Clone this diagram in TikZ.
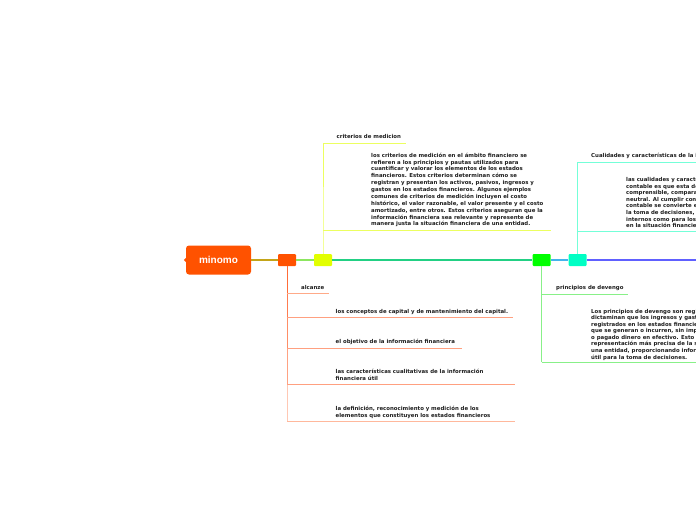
\documentclass[tikz,border=0pt]{standalone}
\usepackage{fontspec}
\setmainfont{Liberation Sans}
\newfontfamily\smallfam{DejaVu Sans}
\definecolor{mainor}{HTML}{FF5200}
\definecolor{yel}{HTML}{E2FF00}
\definecolor{grn}{HTML}{00FF00}
\definecolor{cyn}{HTML}{00FFC4}
\definecolor{lmo}{HTML}{C4A418}
\definecolor{loy}{HTML}{8CE660}
\definecolor{lyg}{HTML}{22D084}
\definecolor{lgc}{HTML}{44B4EC}
\definecolor{lcb}{HTML}{6060FF}
\definecolor{ylw}{HTML}{ECFF60}
\definecolor{gln}{HTML}{88F088}
\definecolor{cln}{HTML}{74FFD8}
\definecolor{txc}{HTML}{1E1E1E}
\definecolor{ov1}{HTML}{FF6C38}
\definecolor{ov2}{HTML}{FF7C50}
\definecolor{ov3}{HTML}{FF8E66}
\definecolor{ov4}{HTML}{FFA282}
\definecolor{ov5}{HTML}{FFC8B4}
\definecolor{oh1}{HTML}{FFAA88}
\definecolor{oh2}{HTML}{FFA080}
\definecolor{oh5}{HTML}{FFB89C}
\begin{document}
\begin{tikzpicture}[x=1pt,y=-1pt,
  lbl/.style={font=\smallfam\bfseries\fontsize{5.4}{6.9}\selectfont, text=txc, inner sep=0pt, anchor=base west, align=left},
  para/.style={font=\smallfam\bfseries\fontsize{5.4}{6.9}\selectfont, text=txc, inner sep=0pt, anchor=north west, align=left},
  sbox/.style={minimum width=18pt, minimum height=12pt, inner sep=0pt, rounded corners=1pt},
  trunk/.style={line width=1.3pt},
  br/.style={line width=1pt}]
\useasboundingbox (0,0) rectangle (696,520);
\clip (0,0) rectangle (696,520);
% main node
\node[fill=mainor, rounded corners=3pt, minimum width=65pt, minimum height=29pt, inner sep=0pt,
  text=white, font=\bfseries\fontsize{10}{12}\selectfont] (main) at (218.5,260) {minomo};
\fill[mainor] (main.west) ++(0.5,-2.5) -- ++(-2.5,2.5) -- ++(2.5,2.5) -- cycle;
% small boxes
\node[sbox, fill=mainor] (o) at (287,260) {};
\node[sbox, fill=yel] (y) at (323,260) {};
\node[sbox, fill=grn] (g) at (541.5,260) {};
\node[sbox, fill=cyn] (c) at (577.5,260) {};
\coordinate (tend) at (700,260);
% trunk
\draw[trunk, lmo] (main.east) -- (o.west);
\draw[trunk, loy] (o.east) -- (y.west);
\draw[trunk, lyg] (y.east) -- (g.west);
\draw[trunk, lgc] (g.east) -- (c.west);
\draw[trunk, lcb] (c.east) -- (tend);
% ---------- orange branch (down)
\coordinate (o1) at (287,293);
\coordinate (o2) at (287,317);
\coordinate (o3) at (287,348);
\coordinate (o4) at (287,384);
\coordinate (o5) at (287,421);
\coordinate (e1) at (329,293);
\coordinate (e2) at (513,317);
\coordinate (e3) at (462,348);
\coordinate (e4) at (515,384);
\coordinate (e5) at (515,421);
\draw[br, ov1] (o.south) -- (o1);
\draw[br, ov2] (o1) -- (o2);
\draw[br, ov3] (o2) -- (o3);
\draw[br, ov4] (o3) -- (o4);
\draw[br, ov5] (o4) -- (o5);
\draw[br, oh1] (o1) -- (e1);
\draw[br, oh2] (o2) -- (e2);
\draw[br, oh2] (o3) -- (e3);
\draw[br, oh2] (o4) -- (e4);
\draw[br, oh5] (o5) -- (e5);
\node[lbl] (t1) at (301,289.5) {alcanze};
\node[lbl] (t2) at (335.5,313) {los conceptos de capital y de mantenimiento del capital.};
\node[lbl] (t3) at (335.5,343.5) {el objetivo de la información financiera};
\node[para] (t4) at (335.5,368) {\rule{0pt}{5.5pt}las características cualitativas de la información\\financiera útil};
\node[para] (t5) at (335.5,405) {\rule{0pt}{5.5pt}la definición, reconocimiento y medición de los\\elementos que constituyen los estados financieros};
% ---------- yellow branch (up)
\coordinate (y1) at (323,230);
\coordinate (y2) at (323,143);
\coordinate (ye1) at (551,230);
\coordinate (ye2) at (406,143);
\draw[br, ylw] (y.north) -- (y1) -- (y2);
\draw[br, ylw] (y1) -- (ye1);
\draw[br, ylw] (y2) -- (ye2);
\node[lbl] (yt) at (336.5,138.5) {criterios de medicion};
\node[para, font=\smallfam\bfseries\fontsize{5.4}{6.87}\selectfont] (yp) at (371,151.5) {\rule{0pt}{5.5pt}los criterios de medición en el ámbito financiero se\\
refieren a los principios y pautas utilizados para\\
cuantificar y valorar los elementos de los estados\\
financieros. Estos criterios determinan cómo se\\
registran y presentan los activos, pasivos, ingresos y\\
gastos en los estados financieros. Algunos ejemplos\\
comunes de criterios de medición incluyen el costo\\
histórico, el valor razonable, el valor presente y el costo\\
amortizado, entre otros. Estos criterios aseguran que la\\
información financiera sea relevante y represente de\\
manera justa la situación financiera de una entidad.};
% ---------- green branch (down)
\coordinate (g1) at (541.5,294);
\coordinate (g2) at (541.5,362);
\coordinate (ge1) at (628,294);
\coordinate (ge2) at (700,362);
\draw[br, gln] (g.south) -- (g1) -- (g2);
\draw[br, gln] (g1) -- (ge1);
\draw[br, gln] (g2) -- (ge2);
\node[lbl] (gt) at (556,289.5) {principios de devengo};
\node[para, font=\smallfam\bfseries\fontsize{5.4}{6.55}\selectfont] (gp) at (591,307.5) {\rule{0pt}{5.5pt}Los principios de devengo son reglas contables que\\
dictaminan que los ingresos y gastos deben ser\\
registrados en los estados financieros en el período en\\
que se generan o incurren, sin importar si se ha recibido\\
o pagado dinero en efectivo. Esto permite una\\
representación más precisa de la situación financiera de\\
una entidad, proporcionando información relevante y\\
útil para la toma de decisiones.};
% ---------- cyan branch (up)
\coordinate (c1) at (577.5,231);
\coordinate (c2) at (577.5,162);
\coordinate (ce1) at (700,231);
\coordinate (ce2) at (700,162);
\draw[br, cln] (c.north) -- (c1) -- (c2);
\draw[br, cln] (c1) -- (ce1);
\draw[br, cln] (c2) -- (ce2);
\node[lbl] (ct) at (591,157.5) {Cualidades y características de la información financiera};
\node[para, font=\smallfam\bfseries\fontsize{5.4}{6.55}\selectfont] (cp) at (626,176) {\rule{0pt}{5.5pt}las cualidades y características de la información\\
contable es que esta debe ser relevante, fiable,\\
comprensible, comparable, oportuna y verificable,\\
neutral. Al cumplir con estas características, la\\
contable se convierte en una herramienta valiosa\\
la toma de decisiones, tanto para los usuarios\\
internos como para los externos interesados\\
en la situación financiera de la entidad.};
\end{tikzpicture}
\end{document}
